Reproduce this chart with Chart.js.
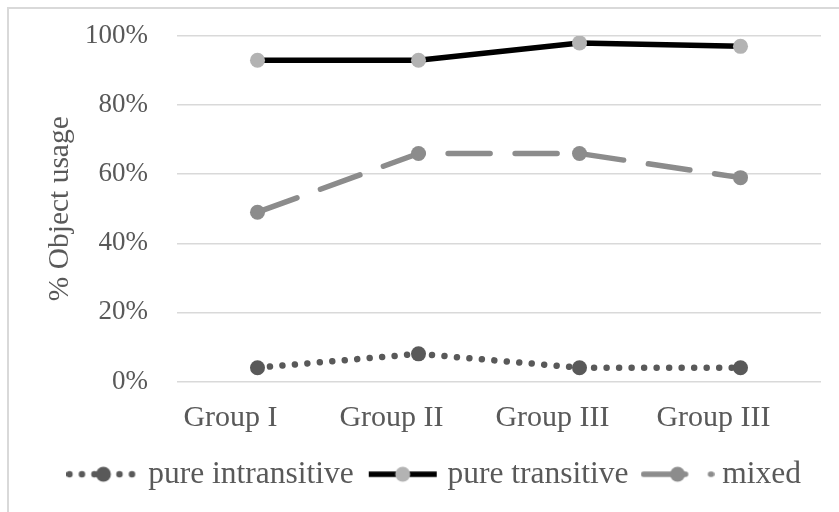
<!DOCTYPE html>
<html>
<head>
<meta charset="utf-8">
<title>Object usage by group</title>
<script src="https://cdn.jsdelivr.net/npm/chart.js@4.4.1/dist/chart.umd.min.js"></script>
<style>
  html, body { margin: 0; padding: 0; background: #fff; }
  #wrap { position: relative; width: 839px; height: 512px; overflow: hidden; }
  /* light frame around the chart, runs off the right and bottom edges */
  #frame { position: absolute; left: 7px; top: 7px; width: 900px; height: 600px;
           border: 2px solid #d9d9d9; box-sizing: border-box; }
  #chart { position: absolute; left: 0; top: 0; }
</style>
</head>
<body>
<div id="wrap">
  <div id="frame"></div>
  <canvas id="chart" width="839" height="512"></canvas>
</div>
<script>
// --- data ---
const groups = ['Group I', 'Group II', 'Group III', 'Group III'];
const pureIntransitive = [4, 8, 4, 4];
const pureTransitive = [93, 93, 98, 97];
const mixed = [49, 66, 66, 59];
const yTickLabels = ['0%', '20%', '40%', '60%', '80%', '100%'];

const serif = "'Liberation Serif', 'Times New Roman', serif";
const textGrey = '#595959';

// legend sample: a short stroke with the marker sitting in the middle
function legendSymbol(lineColor, dotColor, width, dash) {
    const c = document.createElement('canvas');
    c.width = 74;
    c.height = 20;
    const g = c.getContext('2d');
    g.strokeStyle = lineColor;
    g.lineWidth = width;
    g.lineCap = dash.length ? 'round' : 'butt';
    g.setLineDash(dash);
    g.beginPath();
    g.moveTo(3, 10);
    g.lineTo(71, 10);
    g.stroke();
    g.setLineDash([]);
    g.fillStyle = dotColor;
    g.beginPath();
    g.arc(37, 10, 7.5, 0, Math.PI * 2);
    g.fill();
    return c;
}

const dotted = [0.01, 12.5];
const longDash = [42, 25];

const symbols = [
    legendSymbol('#595959', '#595959', 6.5, dotted),
    legendSymbol('#000000', '#b3b3b3', 5.5, []),
    legendSymbol('#8c8c8c', '#8c8c8c', 5.5, longDash)
];

new Chart(document.getElementById('chart'), {
    type: 'line',
    data: {
        labels: groups,
        datasets: [
            {
                label: 'pure intransitive',
                data: pureIntransitive,
                borderColor: '#595959',
                borderWidth: 6.5,
                borderDash: dotted,
                borderCapStyle: 'round',
                pointRadius: 7.5,
                pointBorderWidth: 0,
                pointBackgroundColor: '#595959'
            },
            {
                label: 'pure transitive',
                data: pureTransitive,
                borderColor: '#000000',
                borderWidth: 5.5,
                pointRadius: 7.5,
                pointBorderWidth: 0,
                pointBackgroundColor: '#b3b3b3'
            },
            {
                label: 'mixed',
                data: mixed,
                borderColor: '#8c8c8c',
                borderWidth: 5.5,
                borderDash: longDash,
                borderCapStyle: 'round',
                pointRadius: 7.5,
                pointBorderWidth: 0,
                pointBackgroundColor: '#8c8c8c'
            }
        ]
    },
    options: {
        responsive: false,
        animation: false,
        layout: { padding: { left: 0, top: 36, right: 18, bottom: 12 } },
        scales: {
            x: {
                offset: true,
                grid: { display: false },
                border: { display: false },
                ticks: {
                    color: textGrey,
                    font: { family: serif, size: 30 },
                    labelOffset: -27,
                    padding: 11,
                    maxRotation: 0
                },
                afterFit: (s) => { s.height = 57; }
            },
            y: {
                min: 0,
                max: 100,
                border: { display: false },
                grid: { color: '#d9d9d9', lineWidth: 1.5, drawTicks: false },
                ticks: {
                    stepSize: 20,
                    color: textGrey,
                    font: { family: serif, size: 27 },
                    padding: 29,
                    callback: (v, i) => yTickLabels[i]
                },
                title: {
                    display: true,
                    text: '% Object usage',
                    color: textGrey,
                    font: { family: serif, size: 29.5 },
                    padding: { top: 43, bottom: 0 }
                },
                // fixed axis width; the label padding should not push the plot down
                afterFit: (s) => {
                    s.width = 177;
                    s.paddingTop = 0;
                    s.paddingBottom = 0;
                }
            }
        },
        plugins: {
            tooltip: { enabled: false },
            legend: {
                position: 'bottom',
                align: 'end',
                labels: {
                    usePointStyle: true,
                    pointStyleWidth: 58,
                    boxHeight: 20,
                    padding: 20,
                    color: textGrey,
                    font: { family: serif, size: 31.5 },
                    generateLabels: (chart) => chart.data.datasets.map((ds, i) => ({
                        text: ds.label,
                        pointStyle: symbols[i],
                        datasetIndex: i,
                        hidden: false,
                        lineWidth: 0,
                        fillStyle: 'rgba(0,0,0,0)',
                        strokeStyle: 'rgba(0,0,0,0)',
                        fontColor: textGrey
                    }))
                }
            }
        }
    }
});
</script>
</body>
</html>
